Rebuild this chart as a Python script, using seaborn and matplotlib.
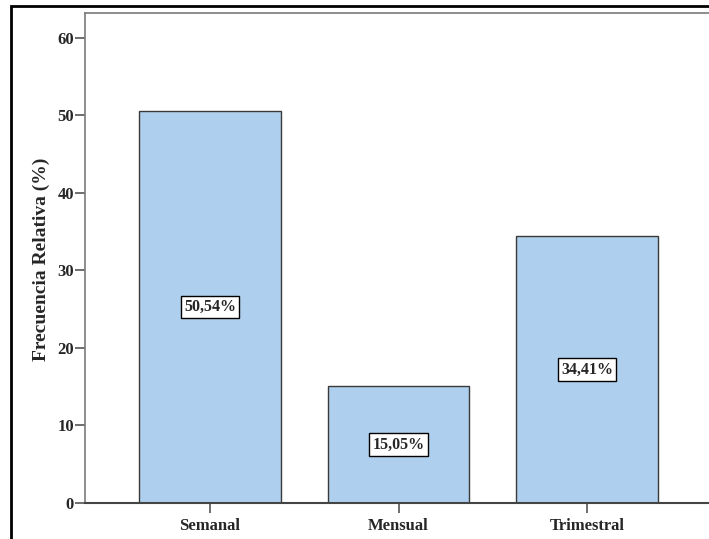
import matplotlib
matplotlib.use("Agg")
import matplotlib.pyplot as plt
import matplotlib.patches as mpatches
import seaborn as sns
import pandas as pd

categorias = ["Semanal", "Mensual", "Trimestral"]
frecuencia = [50.54, 15.05, 34.41]
etiquetas = ["50,54%", "15,05%", "34,41%"]

df = pd.DataFrame({"Periodo": categorias, "Frecuencia": frecuencia})

sns.set_style("white")
plt.rcParams["font.family"] = ["Liberation Serif", "DejaVu Serif"]
plt.rcParams["font.weight"] = "bold"

fig = plt.figure(figsize=(7.09, 5.39), dpi=100)
ax = fig.add_axes([85/709, 36/539, 627/709, 490/539])

sns.barplot(data=df, x="Periodo", y="Frecuencia", color="#aecfed",
            saturation=1, width=0.75, edgecolor="#3a3a3a", linewidth=1.0, ax=ax)

for i, (v, t) in enumerate(zip(frecuencia, etiquetas)):
    ax.text(i, v / 2, t, ha="center", va="center", fontsize=11.5, fontweight="bold",
            bbox=dict(boxstyle="square,pad=0.2", fc="white", ec="black", lw=1))

ax.set_xlim(-0.663, 2.663)
ax.set_ylim(0, 63.2)
ax.set_yticks([0, 10, 20, 30, 40, 50, 60])
ax.set_xlabel("")
ax.set_ylabel("Frecuencia Relativa (%)", fontsize=14, fontweight="bold")
ax.yaxis.set_label_coords(-0.056, 0.497)

ax.tick_params(axis="both", which="major", direction="out", length=7, width=1.2,
               color="#555555", labelsize=12, pad=1, left=True, bottom=True)
ax.tick_params(axis="x", pad=4)
for lab in ax.get_xticklabels() + ax.get_yticklabels():
    lab.set_fontweight("bold")

for s in ["left", "top", "right"]:
    ax.spines[s].set_color("#7a7a7a")
    ax.spines[s].set_linewidth(1.2)
ax.spines["bottom"].set_color("#444444")
ax.spines["bottom"].set_linewidth(1.5)

# marco exterior
marco = mpatches.Rectangle((11/709, -0.1), 1.2, 1 - 6/539 + 0.1, transform=fig.transFigure,
                           fill=False, ec="black", lw=2, clip_on=False)
fig.patches.append(marco)

fig.savefig("out.png", dpi=100, facecolor="white")
